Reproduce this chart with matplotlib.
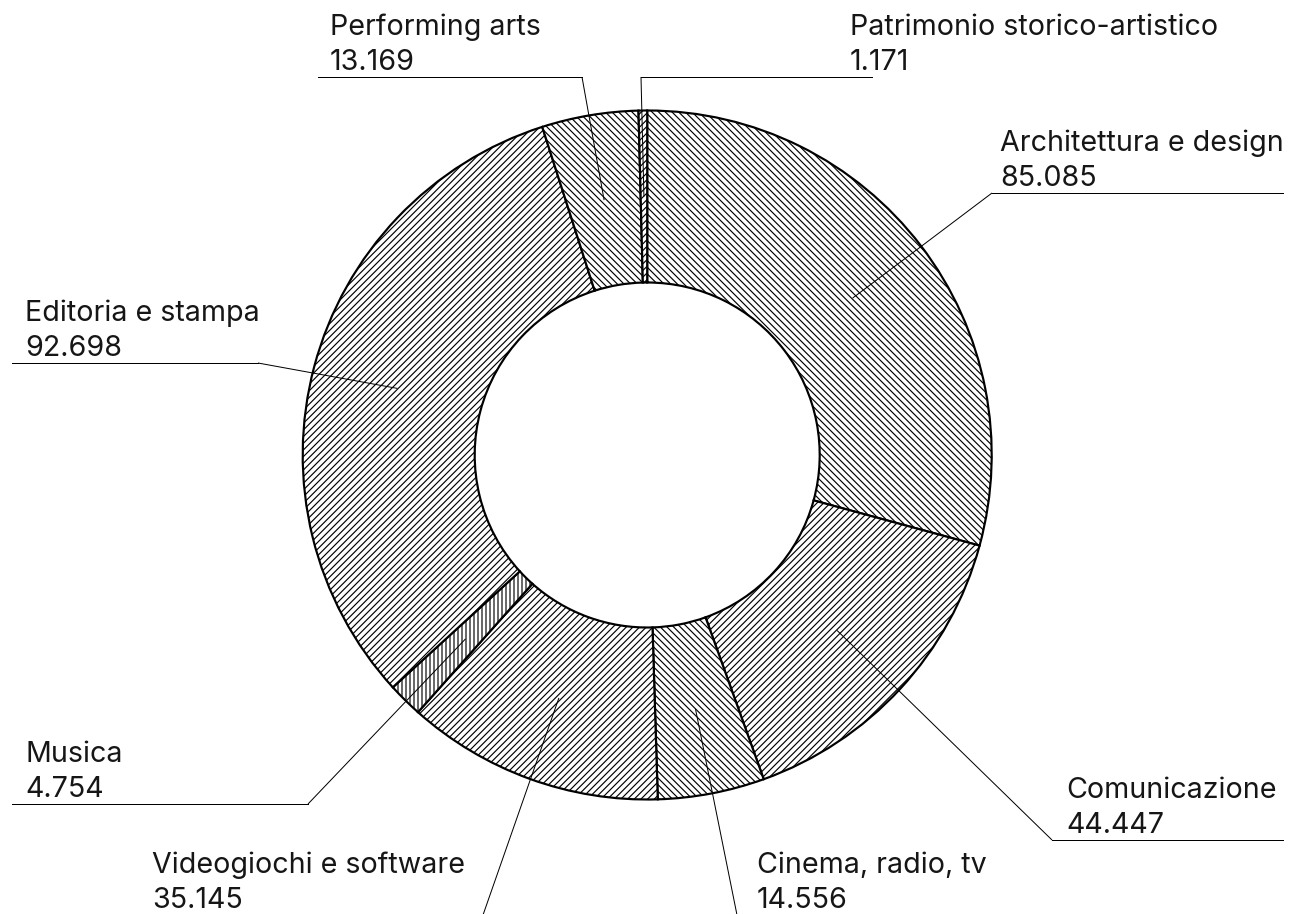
import matplotlib
matplotlib.use("Agg")
import matplotlib.pyplot as plt
import numpy as np

# ---- data ----
categories = ["Architettura e design", "Comunicazione", "Cinema, radio, tv",
              "Videogiochi e software", "Musica", "Editoria e stampa",
              "Performing arts", "Patrimonio storico-artistico"]
values = [85.085, 44.447, 14.556, 35.145, 4.754, 92.698, 13.169, 1.171]
value_labels = ["85.085", "44.447", "14.556", "35.145", "4.754", "92.698", "13.169", "1.171"]

# ---- style / layout ----
hatches = ['\\' * 6, '/' * 6, '\\' * 6, '/' * 6, '|' * 5, '/' * 6, '\\' * 6, '/' * 6]
W, H = 1290, 914
DPI = 120
CX, CY = 647.2, 455.0          # pixel centre (y from top)
R_OUT, R_IN = 344.5, 172.5

# label layout: text x, horizontal line y, line x0, x1, elbow side ('L' or 'R')
lab_text_x = [1000, 1066, 757, 152, 25, 25, 330, 850]
lab_line_y = [193, 840, 915, 915, 804, 363, 77, 77]
lab_line_x0 = [992, 1052, 737, 140, 12, 12, 318, 641]
lab_line_x1 = [1283, 1283, 1000, 483, 308, 258, 582, 872]
lab_elbow = ['L', 'L', 'L', 'R', 'R', 'R', 'R', 'L']

plt.rcParams['font.family'] = ['Inter', 'DejaVu Sans']
plt.rcParams['hatch.linewidth'] = 0.7

fig = plt.figure(figsize=(W / DPI, H / DPI), dpi=DPI)
ax = fig.add_axes([0, 0, 1, 1])

def Y(y):
    return H - y

wedges, _ = ax.pie(values, center=(CX, Y(CY)), radius=R_OUT, startangle=90,
                   counterclock=False,
                   wedgeprops=dict(width=R_OUT - R_IN, facecolor='white',
                                   edgecolor='black', linewidth=1.3))
for w, h in zip(wedges, hatches):
    w.set_hatch(h)

ax.set_xlim(0, W)
ax.set_ylim(0, H)
ax.set_aspect('equal')
ax.axis('off')

r_mid = (R_OUT + R_IN) / 2
line_h = 35.3
for i, w in enumerate(wedges):
    th = np.deg2rad((w.theta1 + w.theta2) / 2)
    ax_ = CX + r_mid * np.cos(th)
    ay_ = Y(CY) + r_mid * np.sin(th)
    ex = lab_line_x0[i] if lab_elbow[i] == 'L' else lab_line_x1[i]
    ey = Y(lab_line_y[i])
    ax.plot([ax_, ex], [ay_, ey], color='black', lw=0.6, solid_capstyle='butt', clip_on=False)
    ax.plot([lab_line_x0[i], lab_line_x1[i]], [ey, ey], color='black', lw=0.6, clip_on=False)
    b2 = lab_line_y[i] - 7
    b1 = b2 - line_h
    ax.text(lab_text_x[i], Y(b1), categories[i], fontsize=17.2, color='#161616',
            ha='left', va='baseline')
    ax.text(lab_text_x[i], Y(b2), value_labels[i], fontsize=17.2, color='#161616',
            ha='left', va='baseline')

fig.savefig("out.png", dpi=DPI, facecolor='white')
